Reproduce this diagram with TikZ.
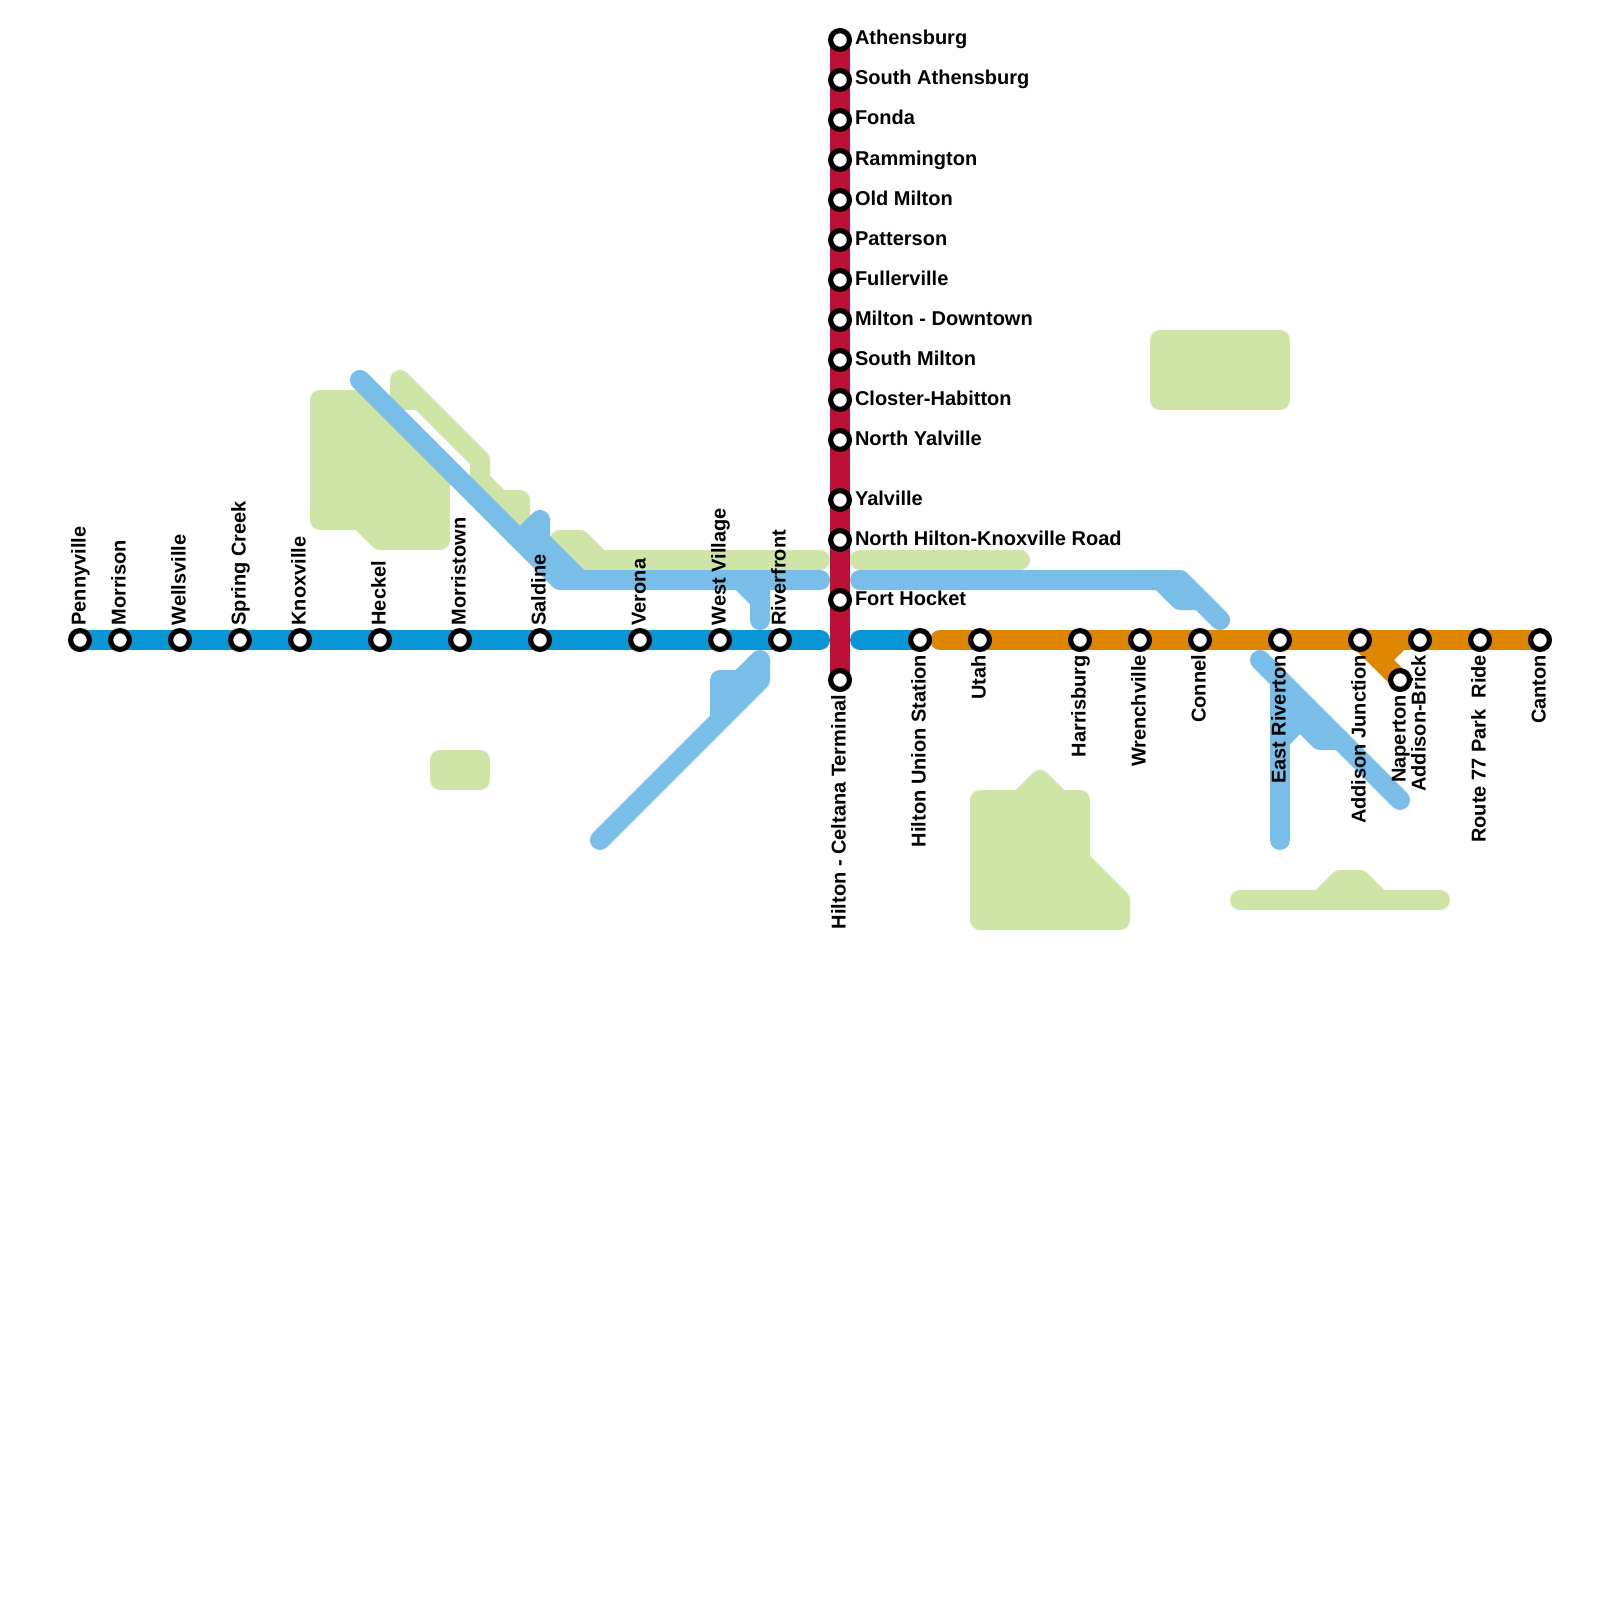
\documentclass[tikz,border=0pt]{standalone}
\usepackage{fontspec}
\setmainfont{Liberation Sans}
\definecolor{mainblue}{HTML}{0896D7}
\definecolor{lightblue}{HTML}{79BDE9}
\definecolor{parkgreen}{HTML}{CFE4A7}
\definecolor{lineorange}{HTML}{DF8600}
\definecolor{linered}{HTML}{BD1038}
\pgfdeclarelayer{lines}
\pgfsetlayers{lines,main}
\tikzset{
  route/.style={line width=10pt,line cap=round,line join=round},
  park/.style={route,draw=parkgreen,fill=parkgreen},
  stn/.style={circle,draw=black,fill=white,line width=2.6pt,inner sep=0pt,minimum size=9.4pt,outer sep=0pt},
  lbl/.style={inner sep=0pt,outer sep=0pt,font=\fontsize{10}{12}\selectfont\bfseries,text=black},
  lup/.style={lbl,rotate=90,anchor=base west},
  ldown/.style={lbl,rotate=90,anchor=base east},
  lright/.style={lbl,anchor=base west}
}
\begin{document}
\begin{tikzpicture}[x=0.5pt,y=-0.5pt]
\useasboundingbox (0,0) rectangle (1600,1600);
% stations on the west-east line
\node[stn] (pennyville) at (80,640) {};
\node[stn] (morrison) at (120,640) {};
\node[stn] (wellsville) at (180,640) {};
\node[stn] (springcreek) at (240,640) {};
\node[stn] (knoxville) at (300,640) {};
\node[stn] (heckel) at (380,640) {};
\node[stn] (morristown) at (460,640) {};
\node[stn] (saldine) at (540,640) {};
\node[stn] (verona) at (640,640) {};
\node[stn] (westvillage) at (720,640) {};
\node[stn] (riverfront) at (780,640) {};
\node[stn] (hiltonunion) at (920,640) {};
\node[stn] (utah) at (980,640) {};
\node[stn] (harrisburg) at (1080,640) {};
\node[stn] (wrenchville) at (1140,640) {};
\node[stn] (connel) at (1200,640) {};
\node[stn] (eastriverton) at (1280,640) {};
\node[stn] (addisonjunction) at (1360,640) {};
\node[stn] (addisonbrick) at (1420,640) {};
\node[stn] (routeride) at (1480,640) {};
\node[stn] (canton) at (1540,640) {};
\node[stn] (naperton) at (1400,680) {};
% stations on the north-south line
\node[stn] (athensburg) at (840,40) {};
\node[stn] (southathensburg) at (840,80) {};
\node[stn] (fonda) at (840,120) {};
\node[stn] (rammington) at (840,160) {};
\node[stn] (oldmilton) at (840,200) {};
\node[stn] (patterson) at (840,240) {};
\node[stn] (fullerville) at (840,280) {};
\node[stn] (miltondowntown) at (840,320) {};
\node[stn] (southmilton) at (840,360) {};
\node[stn] (closter) at (840,400) {};
\node[stn] (northyalville) at (840,440) {};
\node[stn] (yalville) at (840,500) {};
\node[stn] (northhilton) at (840,540) {};
\node[stn] (forthocket) at (840,600) {};
\node[stn] (celtana) at (840,680) {};
% free ends
\coordinate (bluewestend) at (820,640);
\coordinate (blueeaststart) at (860,640);
\coordinate (orangestart) at (940,640);
\coordinate (orangekink) at (1380,660);
\coordinate (orangestub) at (1400,640);
\begin{pgfonlayer}{lines}
% parks
\draw[park] (320,400) -- (360,400) -- (440,480) -- (440,540) -- (380,540) -- (360,520) -- (320,520) -- cycle;
\draw[park] (400,380) -- (480,460) -- (480,480) -- (500,500) -- (520,500) -- (520,530) -- (480,490) -- (480,460) -- (420,400) -- (400,400) -- cycle;
\draw[park] (560,540) -- (580,540) -- (600,560) -- (820,560) -- (580,560) -- cycle;
\draw[park] (860,560) -- (1020,560);
\draw[park] (1160,340) rectangle (1280,400);
\draw[park] (440,760) rectangle (480,780);
\draw[park] (980,800) -- (1020,800) -- (1040,780) -- (1060,800) -- (1080,800) -- (1080,860) -- (1120,900) -- (1120,920) -- (980,920) -- cycle;
\draw[park] (1240,900) -- (1320,900) -- (1340,880) -- (1360,880) -- (1380,900) -- (1440,900) -- cycle;
% light blue
\draw[route,lightblue] (360,380) -- (560,580) -- (820,580);
\draw[route,lightblue] (520,540) -- (540,520) -- (540,540) -- (580,580);
\draw[route,lightblue] (740,580) -- (760,600) -- (760,620);
\draw[route,lightblue] (760,580) -- (760,600);
\draw[route,lightblue] (600,840) -- (760,680) -- (760,660) -- (720,700) -- (720,680) -- (740,680);
\fill[lightblue] (710,680) -- (760,660) -- (760,680) -- (720,720) -- (710,717) -- cycle;
\draw[route,lightblue] (860,580) -- (1180,580) -- (1220,620);
\draw[route,lightblue] (1160,580) -- (1180,600) -- (1200,600);
\draw[route,lightblue] (1260,660) -- (1400,800);
\draw[route,lightblue] (1280,680) -- (1280,840);
\draw[route,lightblue] (1280,740) -- (1300,720) -- (1320,740) -- (1340,740);
\fill[lightblue] (1280,680) -- (1320,720) -- (1320,740) -- (1300,720) -- (1280,740) -- cycle;
% main lines
\draw[route,mainblue] (pennyville.center) -- (bluewestend);
\draw[route,mainblue] (blueeaststart) -- (hiltonunion.center);
\draw[route,lineorange] (orangestart) -- (canton.center);
\draw[route,lineorange] (addisonjunction.center) -- (naperton.center);
\draw[route,lineorange] (orangekink) -- (orangestub);
\draw[route,linered] (athensburg.center) -- (celtana.center);
\end{pgfonlayer}
% labels above
\node[lup] (lpennyville) at (85.5,625.5) {Pennyville};
\node[lup] (lmorrison) at (125.5,625.5) {Morrison};
\node[lup] (lwellsville) at (185.5,625.5) {Wellsville};
\node[lup] (lspringcreek) at (245.5,625.5) {Spring Creek};
\node[lup] (lknoxville) at (305.5,625.5) {Knoxville};
\node[lup] (lheckel) at (385.5,625.5) {Heckel};
\node[lup] (lmorristown) at (465.5,625.5) {Morristown};
\node[lup] (lsaldine) at (545.5,625.5) {Saldine};
\node[lup] (lverona) at (645.5,625.5) {Verona};
\node[lup] (lwestvillage) at (725.5,625.5) {West Village};
\node[lup] (lriverfront) at (785.5,625.5) {Riverfront};
% labels below
\node[ldown] (lceltana) at (845.5,695) {Hilton - Celtana Terminal};
\node[ldown] (lhiltonunion) at (925.5,655) {Hilton Union Station};
\node[ldown] (lutah) at (985.5,655) {Utah};
\node[ldown] (lharrisburg) at (1085.5,655) {Harrisburg};
\node[ldown] (lwrenchville) at (1145.5,655) {Wrenchville};
\node[ldown] (lconnel) at (1205.5,655) {Connel};
\node[ldown] (leastriverton) at (1285.5,655) {East Riverton};
\node[ldown] (laddisonjunction) at (1365.5,655) {Addison Junction};
\node[ldown] (lnaperton) at (1405.5,695) {Naperton};
\node[ldown] (laddisonbrick) at (1425.5,655) {Addison-Brick};
\node[ldown] (lrouteride) at (1485.5,655) {Route 77 Park\ \ Ride};
\node[ldown] (lcanton) at (1545.5,655) {Canton};
% labels right
\node[lright] (lathensburg) at (855,45) {Athensburg};
\node[lright] (lsouthathensburg) at (855,85) {South Athensburg};
\node[lright] (lfonda) at (855,125) {Fonda};
\node[lright] (lrammington) at (855,165) {Rammington};
\node[lright] (loldmilton) at (855,205) {Old Milton};
\node[lright] (lpatterson) at (855,245) {Patterson};
\node[lright] (lfullerville) at (855,285) {Fullerville};
\node[lright] (lmiltondowntown) at (855,325) {Milton - Downtown};
\node[lright] (lsouthmilton) at (855,365) {South Milton};
\node[lright] (lcloster) at (855,405) {Closter-Habitton};
\node[lright] (lnorthyalville) at (855,445) {North Yalville};
\node[lright] (lyalville) at (855,505) {Yalville};
\node[lright] (lnorthhilton) at (855,545) {North Hilton-Knoxville Road};
\node[lright] (lforthocket) at (855,605) {Fort Hocket};
\end{tikzpicture}
\end{document}
